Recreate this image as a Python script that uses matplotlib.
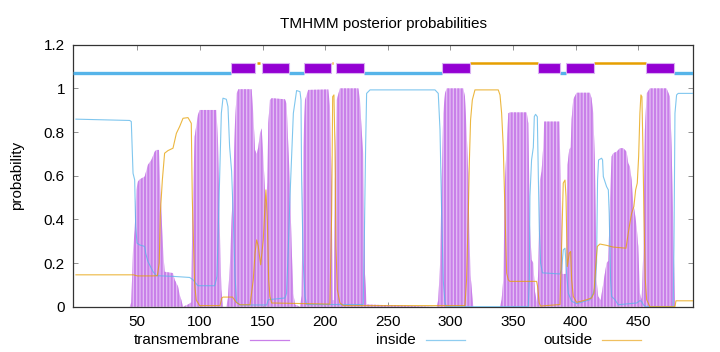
import matplotlib
matplotlib.use("Agg")
import matplotlib.pyplot as plt
from matplotlib.patches import Rectangle
from matplotlib.lines import Line2D

plt.rcParams['font.family'] = ['Liberation Sans', 'DejaVu Sans']
plt.rcParams['hatch.linewidth'] = 1.5

# ---- data (sequence position, probability) ----
tm_pos = [1, 44, 45.2, 46.6, 47.9, 49.2, 50.5, 51.9, 55.9, 58.5, 61.2, 63.9, 65.2, 67.3, 68.4, 70.5,
          71.8, 78.5, 79.8, 82.5, 83.8, 85.1, 86.5, 90.5, 93.1, 93.9, 95.8, 98.4, 99.8, 113.1, 114.4,
          115.7, 117.1, 118.4, 121.1, 122.4, 124.0, 125.3, 126.7, 128.0, 129.3, 130.7, 141.3, 142.6,
          144.0, 145.3, 146.6, 148.0, 149.3, 150.6, 151.9, 152.7, 153.8, 154.6, 155.9, 157.3, 167.9,
          169.2, 170.6, 171.9, 173.2, 174.6, 175.9, 179.9, 181.2, 182.5, 183.9, 186.5, 202.5, 203.8,
          205.2, 206.0, 207.0, 207.8, 209.2, 211.8, 226.5, 227.8, 229.1, 230.4, 231.8, 233.1, 289.0,
          290.3, 291.7, 293.0, 294.3, 295.7, 297.0, 310.3, 311.6, 312.9, 314.3, 315.1, 316.1, 317.5,
          318.3, 339.6, 340.9, 342.2, 343.6, 344.9, 346.2, 347.5, 360.9, 362.2, 363.5, 364.8, 366.2,
          367.5, 369.0, 370.2, 371.5, 372.8, 374.1, 374.9, 387.0, 388.0, 388.8, 389.5, 392.0, 392.8,
          393.5, 394.9, 396.0, 396.8, 398.1, 400.8, 411.4, 412.7, 414.1, 415.4, 416.7, 418.0, 420.0,
          422.1, 424.7, 426.1, 427.4, 428.7, 430.0, 432.7, 435.4, 438.0, 440.7, 442.0, 443.3, 444.7,
          446.0, 447.3, 448.7, 450.0, 451.3, 452.7, 454.0, 455.3, 456.7, 459.3, 472.6, 475.3, 476.6,
          477.9, 479.3, 494]
tm_prob = [0.0, 0.0, 0.02, 0.26, 0.35, 0.535, 0.573, 0.583, 0.596, 0.65, 0.672, 0.71, 0.718, 0.718,
           0.535, 0.276, 0.16, 0.154, 0.124, 0.093, 0.055, 0.032, 0.0, 0.01, 0.02, 0.40, 0.779, 0.878,
           0.901, 0.901, 0.764, 0.40, 0.08, 0.0, 0.0, 0.04, 0.2, 0.40, 0.58, 0.84, 0.977, 0.996, 0.996,
           0.886, 0.718, 0.70, 0.73, 0.795, 0.817, 0.69, 0.535, 0.46, 0.57, 0.84, 0.947, 0.955, 0.95,
           0.93, 0.733, 0.565, 0.28, 0.06, 0.01, 0.0, 0.05, 0.73, 0.947, 0.993, 0.995, 0.92, 0.55, 0.03,
           0.03, 0.58, 0.947, 1.0, 1.0, 0.947, 0.81, 0.70, 0.15, 0.01, 0.0, 0.03, 0.19, 0.57, 0.886,
           0.977, 1.0, 1.0, 0.962, 0.81, 0.611, 0.34, 0.145, 0.05, 0.0, 0.0, 0.032, 0.123, 0.581, 0.733,
           0.886, 0.89, 0.89, 0.84, 0.38, 0.215, 0.2, 0.07, 0.02, 0.17, 0.58, 0.62, 0.73, 0.848, 0.848,
           0.6, 0.3, 0.15, 0.15, 0.35, 0.65, 0.72, 0.73, 0.86, 0.95, 0.98, 0.98, 0.955, 0.886, 0.657,
           0.123, 0.047, 0.03, 0.108, 0.2, 0.21, 0.49, 0.688, 0.703, 0.71, 0.726, 0.726, 0.71, 0.657,
           0.642, 0.58, 0.474, 0.428, 0.367, 0.276, 0.062, 0.032, 0.245, 0.81, 0.977, 1.0, 1.0, 0.962,
           0.733, 0.398, 0.0, 0.0]

in_pos = [1, 43.9, 45.2, 46.6, 47.9, 48.7, 49.8, 51.9, 55.9, 56.7, 58.5, 62.5, 65.2, 78.5, 91.8, 94.5,
          98.4, 111.8, 113.6, 115.7, 117.1, 118.4, 121.1, 122.4, 123.7, 125.3, 126.7, 128.0, 129.3,
          132.0, 153.3, 154.6, 167.9, 169.2, 170.6, 171.9, 174.6, 177.2, 179.9, 180.7, 181.2, 182.5,
          183.9, 185.2, 230.4, 231.2, 232.3, 233.1, 235.8, 287.7, 290.3, 291.7, 293.0, 294.3, 295.7,
          297.0, 362.2, 363.0, 363.5, 364.8, 366.2, 367.0, 368.0, 369.4, 370.2, 371.0, 372.0, 373.5,
          387.5, 388.8, 390.1, 391.5, 392.8, 394.1, 396.8, 400.8, 411.4, 414.1, 415.4, 416.7, 417.5,
          418.3, 420.7, 421.5, 422.1, 424.7, 426.1, 426.8, 427.9, 428.7, 431.4, 434.0, 448.7, 451.3,
          452.7, 454.0, 456.0, 477.9, 478.5, 479.3, 480.6, 481.9, 494]
in_prob = [0.859, 0.853, 0.848, 0.611, 0.581, 0.367, 0.291, 0.283, 0.276, 0.245, 0.207, 0.161, 0.142,
           0.139, 0.134, 0.123, 0.096, 0.096, 0.139, 0.581, 0.886, 0.955, 0.950, 0.916, 0.733, 0.62,
           0.40, 0.14, 0.02, 0.008, 0.008, 0.032, 0.04, 0.062, 0.275, 0.5, 0.886, 0.99, 0.985, 0.947,
           0.58, 0.2, 0.047, 0.01, 0.01, 0.28, 0.733, 0.977, 0.993, 0.993, 0.977, 0.81, 0.43, 0.12,
           0.017, 0.0, 0.0, 0.123, 0.505, 0.672, 0.73, 0.871, 0.881, 0.87, 0.6, 0.35, 0.2, 0.155, 0.15,
           0.17, 0.26, 0.268, 0.15, 0.062, 0.025, 0.014, 0.032, 0.062, 0.092, 0.2, 0.58, 0.672, 0.68,
           0.672, 0.596, 0.55, 0.535, 0.428, 0.123, 0.047, 0.032, 0.009, 0.017, 0.028, 0.024, 0.009,
           0.0, 0.0, 0.28, 0.886, 0.97, 0.977, 0.977]

out_pos = [1, 47, 50, 62, 66, 67.5, 68.4, 70.0, 71.8, 74.5, 78.5, 81.2, 83.8, 86.5, 90.5, 92.3, 93.1,
           93.9, 95.8, 97.1, 99.8, 116, 117.5, 118.5, 126, 129, 132, 140, 142.6, 144.0, 145.3, 146.6,
           148.5, 150.6, 151.9, 152.7, 153.8, 154.9, 155.9, 157.3, 203.8, 205.2, 206.0, 207.0, 207.8,
           208.6, 209.7, 211.8, 214.5, 311.6, 312.9, 314.3, 315.1, 316.1, 317.5, 319.6, 338.2, 339.6,
           340.9, 342.2, 343.6, 344.9, 346.2, 347.5, 368.8, 369.6, 370.9, 372.0, 387.5, 388.8, 390.1,
           391.5, 392.3, 393.3, 394.9, 396.0, 396.8, 398.1, 400.8, 408.8, 412.7, 414.6, 416.2, 417.3,
           419.4, 424.7, 430.0, 440.2, 442.0, 443.3, 444.7, 446.5, 447.9, 449.2, 450.3, 451.3, 452.1,
           452.9, 453.7, 454.5, 455.6, 456.7, 459.3, 479.3, 480.1, 494]
out_prob = [0.146, 0.146, 0.141, 0.141, 0.142, 0.2, 0.43, 0.58, 0.703, 0.715, 0.726, 0.794, 0.825,
            0.863, 0.866, 0.848, 0.84, 0.5, 0.1, 0.03, 0.005, 0.005, 0.04, 0.044, 0.044, 0.02, 0.009,
            0.009, 0.123, 0.245, 0.306, 0.276, 0.192, 0.306, 0.459, 0.535, 0.398, 0.123, 0.047, 0.017,
            0.012, 0.428, 0.962, 0.97, 0.733, 0.276, 0.078, 0.017, 0.005, 0.005, 0.123, 0.428, 0.657,
            0.855, 0.947, 0.993, 0.993, 0.97, 0.886, 0.733, 0.428, 0.154, 0.123, 0.116, 0.116, 0.093,
            0.017, 0.003, 0.01, 0.276, 0.566, 0.58, 0.505, 0.184, 0.245, 0.253, 0.123, 0.047, 0.02,
            0.032, 0.04, 0.062, 0.2, 0.276, 0.287, 0.281, 0.273, 0.268, 0.337, 0.383, 0.428, 0.459,
            0.535, 0.566, 0.688, 0.886, 0.97, 0.962, 0.733, 0.428, 0.123, 0.032, 0.0, 0.0, 0.027, 0.027]

# predicted topology (top track)
tm_start = [124.8, 149.3, 183.0, 209.0, 293.4, 370.2, 392.3, 456.3]
tm_end = [144.0, 171.3, 205.0, 231.0, 315.8, 387.5, 414.7, 478.7]
inside_start = [-1.1, 171.3, 231.0, 387.5, 478.7]
inside_end = [124.8, 183.0, 293.4, 392.3, 493.7]
outside_start = [145.8, 205.4, 315.8, 414.7]
outside_end = [147.6, 206.4, 370.2, 456.3]

xticks = [50, 100, 150, 200, 250, 300, 350, 400, 450]
yticks = [0, 0.2, 0.4, 0.6, 0.8, 1.0, 1.2]
ytick_labels = ["0", "0.2", "0.4", "0.6", "0.8", "1", "1.2"]

PURPLE = '#9400D3'
BLUE = '#56B4E9'
ORANGE = '#E69F00'
FS = 11

fig = plt.figure(figsize=(7.2, 3.52), dpi=100)
ax = fig.add_axes([73.3 / 720, 45.3 / 352, (693 - 73.3) / 720, (306.7 - 44.7) / 352])

# transmembrane probability as striped bars
ax.fill_between(tm_pos, 0, tm_prob, facecolor='#E4BFF4', edgecolor='#C97FE9',
                hatch='|||||', linewidth=0, zorder=2)

ax.plot(in_pos, in_prob, color=BLUE, lw=0.8, alpha=0.75, zorder=3)
ax.plot(out_pos, out_prob, color=ORANGE, lw=0.8, alpha=0.75, zorder=3)

# topology track
for a, b in zip(inside_start, inside_end):
    ax.plot([a, b], [1.072, 1.072], color=BLUE, lw=2.4, solid_capstyle='butt', zorder=4)
for a, b in zip(outside_start, outside_end):
    ax.plot([a, b], [1.114, 1.114], color=ORANGE, lw=1.8, solid_capstyle='butt', zorder=4)
for a, b in zip(tm_start, tm_end):
    ax.add_patch(Rectangle((a, 1.069), b - a, 0.048, facecolor=PURPLE,
                           edgecolor='#D9B0F2', lw=0.8, zorder=5))

ax.set_xlim(-1.1, 493.7)
ax.set_ylim(0, 1.2)
ax.set_xticks(xticks)
ax.set_xticklabels([str(t) for t in xticks])
ax.set_yticks(yticks)
ax.set_yticklabels(ytick_labels)
ax.tick_params(direction='in', top=True, right=True, length=3.5, width=0.6,
               color='#808080', labelsize=FS, pad=6)
for sp in ax.spines.values():
    sp.set_linewidth(0.9)
    sp.set_color('#333333')

ax.set_title("TMHMM posterior probabilities", fontsize=FS, pad=12)
ax.set_ylabel("probability", fontsize=FS, labelpad=14)

# legend below the plot
leg_items = [("transmembrane", '#C97FE9', 240, 250, 289),
             ("inside", '#8FCDF0', 415.5, 426, 465),
             ("outside", '#F0C060', 592, 602, 641)]
ly = (352 - 340) / 352
for label, col, tx, l0, l1 in leg_items:
    fig.text(tx / 720, ly, label, ha='right', va='center', fontsize=FS)
    fig.add_artist(Line2D([l0 / 720, l1 / 720], [ly, ly], color=col, lw=0.9,
                          transform=fig.transFigure))

fig.savefig("out.png", dpi=100)
